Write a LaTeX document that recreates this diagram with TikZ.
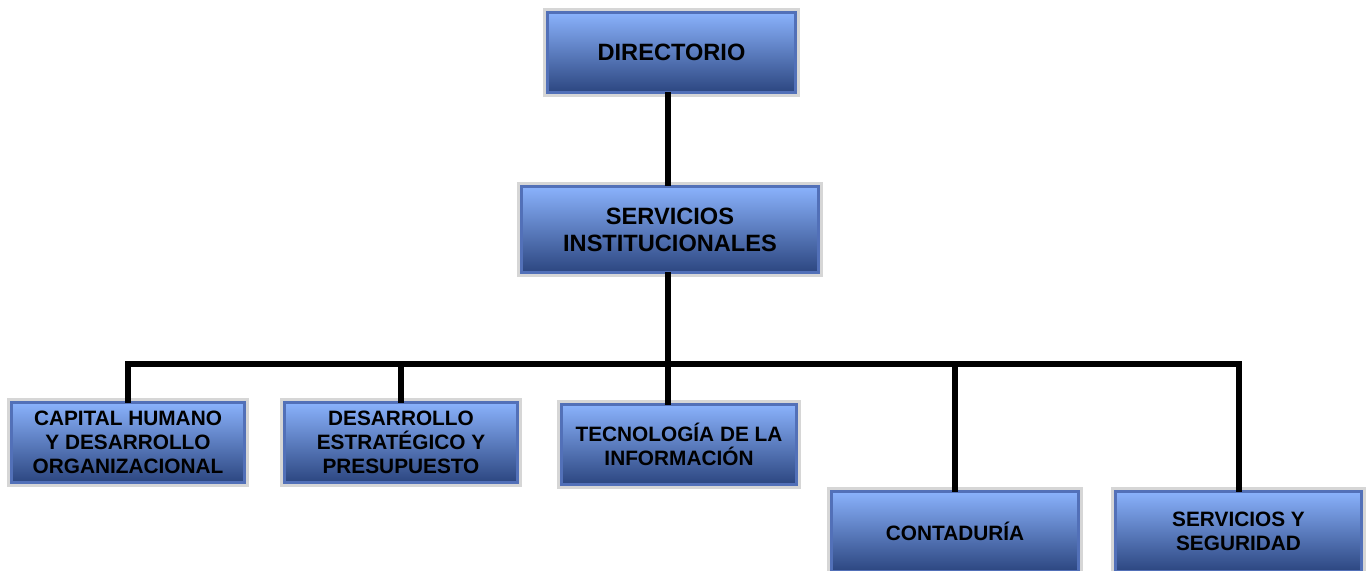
\documentclass[tikz,border=0pt]{standalone}
\usepackage{fontspec}
\setmainfont{Liberation Sans}
\definecolor{btop}{RGB}{138,178,252}
\definecolor{bmid}{RGB}{100,138,218}
\definecolor{bbot}{RGB}{44,70,128}
\definecolor{bedge}{RGB}{82,112,184}
\definecolor{bgray}{RGB}{214,214,214}
\tikzset{
  orgbox/.style={rectangle, draw=bedge, line width=1.5pt,
    top color=btop, middle color=bmid, bottom color=bbot,
    preaction={draw=bgray, line width=4.5pt},
    font=\fontsize{11.8}{13.6}\selectfont\bfseries, align=center,
    inner sep=0pt, outer sep=0pt},
  lowbox/.style={orgbox, font=\fontsize{10.4}{12}\selectfont\bfseries},
  conn/.style={line width=3pt, black}
}
\begin{document}
\begin{tikzpicture}[x=0.5pt,y=-0.5pt]
\useasboundingbox (0,0) rectangle (1368,571);
\coordinate (bus) at (668,364);
\node[orgbox, minimum width=124pt, minimum height=40pt] (dir) at (671.5,52.5) {DIRECTORIO};
\node[orgbox, minimum width=148.5pt, minimum height=43pt] (si) at (670,229.5) {SERVICIOS\\INSTITUCIONALES};
\node[lowbox, minimum width=116.5pt, minimum height=40pt] (ch) at (128,442.5) {CAPITAL HUMANO\\Y DESARROLLO\\ORGANIZACIONAL};
\node[lowbox, minimum width=116.5pt, minimum height=40pt] (de) at (401,442.5) {DESARROLLO\\ESTRATÉGICO Y\\PRESUPUESTO};
\node[lowbox, minimum width=117.5pt, minimum height=40pt] (ti) at (679,444.5) {TECNOLOGÍA DE LA\\INFORMACIÓN};
\node[lowbox, minimum width=123.5pt, minimum height=40pt] (co) at (955,531.5) {CONTADURÍA};
\node[lowbox, minimum width=123pt, minimum height=40pt] (ss) at (1238.5,531.5) {SERVICIOS Y\\SEGURIDAD};
\draw[conn] (bus|-dir.south) -- (bus|-si.north);
\draw[conn] (bus|-si.south) -- (bus);
\draw[conn, line join=miter] (ch.north) |- (bus) -| (ss.north);
\draw[conn] (de.north|-bus) -- (de.north);
\draw[conn] (bus) -- (bus|-ti.north);
\draw[conn] (co.north|-bus) -- (co.north);
\end{tikzpicture}
\end{document}
